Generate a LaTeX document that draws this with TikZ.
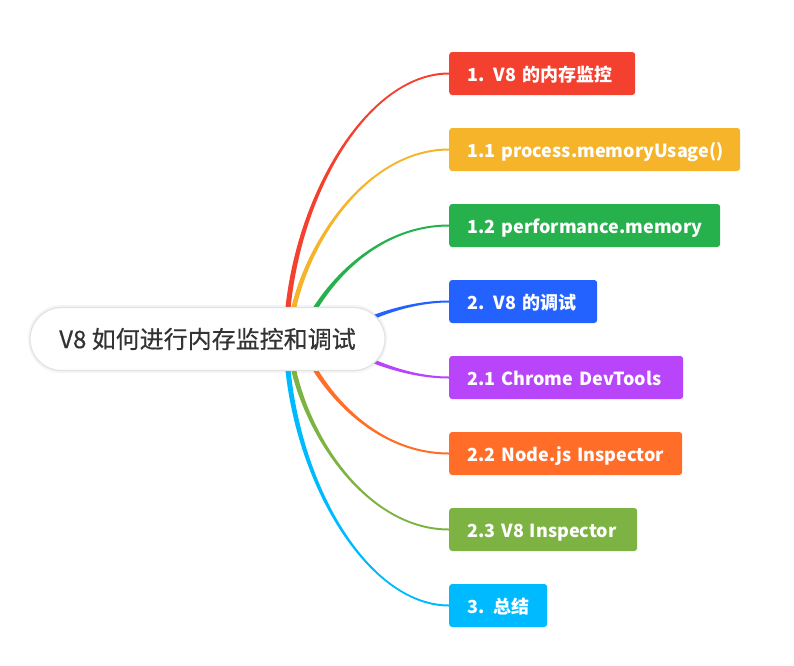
\documentclass[tikz,border=0pt]{standalone}
\usepackage{fontspec}
\setmainfont{Noto Sans CJK SC}
\newfontfamily\rootfont{Noto Sans CJK SC}[FakeBold=0.6]
\usetikzlibrary{calc}
\definecolor{cRed}{HTML}{F4402F}
\definecolor{cYellow}{HTML}{F6B42A}
\definecolor{cGreen}{HTML}{26B14C}
\definecolor{cBlue}{HTML}{2462FF}
\definecolor{cPurple}{HTML}{B845FA}
\definecolor{cOrange}{HTML}{FF6D29}
\definecolor{cOlive}{HTML}{7DB343}
\definecolor{cCyan}{HTML}{00BAFF}
\definecolor{rootText}{HTML}{333333}
\definecolor{rootLine}{HTML}{E2E2E2}
\newcommand\branchline[5]{%
  \fill[#1]
    ($(#2)!2.6pt!90:(#3)$) .. controls ($(#3)!2.6pt!-90:(#2)$) and ($(#4)!1.0pt!90:(#5)$) ..
    ($(#5)!1.0pt!-90:(#4)$) -- ($(#5)!1.0pt!90:(#4)$)
    .. controls ($(#4)!1.0pt!-90:(#5)$) and ($(#3)!2.6pt!90:(#2)$) ..
    ($(#2)!2.6pt!-90:(#3)$) -- cycle;}
\begin{document}
\begin{tikzpicture}[x=1pt,y=-1pt,
  topic/.style={fill=#1, rounded corners=3pt, text=white, font=\fontsize{18}{20}\selectfont\bfseries,
    minimum height=43pt, inner xsep=18pt, inner ysep=0pt, text height=16pt, text depth=0pt,
    align=left, anchor=west},
  rootnode/.style={fill=white, draw=rootLine, line width=1.2pt, rounded corners=31.5pt,
    minimum width=355pt, minimum height=63pt, text=rootText, font=\rootfont\fontsize{24}{26}\selectfont}]
\useasboundingbox (0,0) rectangle (794,665);
% topic boxes
\node[topic=cRed, text width=150pt]    (n1) at (449,73.5)  {\mbox{1. V8 的内存监控}};
\node[topic=cYellow, text width=255pt] (n2) at (449,149.5) {\mbox{1.1 process.memoryUsage()}};
\node[topic=cGreen, text width=235pt]  (n3) at (449,225.5) {\mbox{1.2 performance.memory}};
\node[topic=cBlue, text width=112pt]   (n4) at (449,301.5) {\mbox{2. V8 的调试}};
\node[topic=cPurple, text width=198pt] (n5) at (449,377.5) {\mbox{2.1 Chrome DevTools}};
\node[topic=cOrange, text width=197pt] (n6) at (449,453.5) {\mbox{2.2 Node.js Inspector}};
\node[topic=cOlive, text width=152pt]  (n7) at (449,529.5) {\mbox{2.3 V8 Inspector}};
\node[topic=cCyan, text width=62pt]    (n8) at (449,605.5) {\mbox{3. 总结}};
% branch start points (hidden under the root)
\coordinate (s1) at (286,339);
\coordinate (s2) at (289,339);
\coordinate (s3) at (300,339);
\coordinate (s4) at (330,339);
\coordinate (s5) at (330,339);
\coordinate (s6) at (300,339);
\coordinate (s7) at (289,339);
\coordinate (s8) at (286,339);
\branchline{cRed}{s1}{289,205}{365,73.5}{n1.west}
\branchline{cYellow}{s2}{294,260}{360,149.5}{n2.west}
\branchline{cGreen}{s3}{316,295}{370,225.5}{n3.west}
\branchline{cBlue}{s4}{360,320}{405,301.5}{n4.west}
\branchline{cPurple}{s5}{360,358}{405,377.5}{n5.west}
\branchline{cOrange}{s6}{316,383}{370,453.5}{n6.west}
\branchline{cOlive}{s7}{294,418}{360,529.5}{n7.west}
\branchline{cCyan}{s8}{289,473}{365,605.5}{n8.west}
% root
\fill[black, opacity=0.04, rounded corners=33pt] (28,305) rectangle (387,373);
\node[rootnode] (root) at (207.5,339) {V8 如何进行内存监控和调试};
\end{tikzpicture}
\end{document}
